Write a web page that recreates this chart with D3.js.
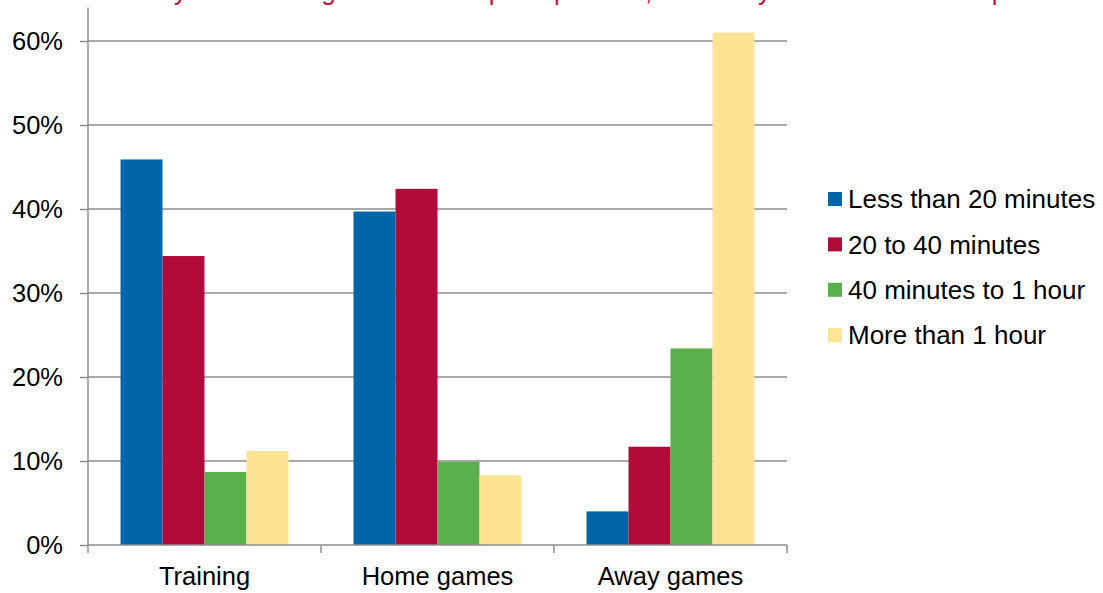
<!DOCTYPE html>
<html>
<head>
<meta charset="utf-8">
<script src="https://cdn.jsdelivr.net/npm/d3@7"></script>
<style>
  body { margin: 0; background: #fff; }
  svg { display: block; font-family: 'Liberation Sans', Arial, sans-serif; }
</style>
</head>
<body>
<div id="chart"></div>
<script>
// Data
var categories = ['Training', 'Home games', 'Away games']
var series = ['Less than 20 minutes', '20 to 40 minutes', '40 minutes to 1 hour', 'More than 1 hour']
var colors = ['#0066aa', '#b20b3a', '#5ab04b', '#fee394']
var lessThan20 = [0.459, 0.397, 0.040]
var from20to40 = [0.344, 0.424, 0.117]
var from40to60 = [0.087, 0.099, 0.234]
var moreThan60 = [0.112, 0.083, 0.610]
var yTicks = [0, 0.1, 0.2, 0.3, 0.4, 0.5, 0.6]
var title = 'How many minutes to get to a local sports practice, and away matches at other sports clubs'

var values = [lessThan20, from20to40, from40to60, moreThan60]

// Setup
var chart = {
  width: 1103,
  height: 593,
  left: 88,
  right: 787,
  top: 41,
  bottom: 545,
}

var svg = d3.select('#chart')
  .append('svg')
  .attr('width', chart.width)
  .attr('height', chart.height)

var x = d3.scaleBand()
  .domain(categories)
  .range([chart.left, chart.right])
  .paddingInner(0)
  .paddingOuter(0)

var xSub = d3.scaleBand()
  .domain(series)
  .range([0, x.bandwidth()])
  .paddingInner(0)
  .paddingOuter(0.774)

var y = d3.scaleLinear()
  .domain([0, 0.6])
  .range([chart.bottom, chart.top])

// title, mostly cut off by the top edge
svg.append('text')
  .attr('x', 64)
  .attr('y', 0)
  .attr('fill', '#c0143c')
  .style('font-size', '26px')
  .text(title)

// gridlines
svg.append('g')
  .selectAll('line')
  .data(yTicks.filter(d => d > 0))
  .enter()
  .append('line')
  .attr('x1', chart.left)
  .attr('x2', chart.right)
  .attr('y1', d => y(d))
  .attr('y2', d => y(d))
  .attr('stroke', '#8c8c8c')
  .attr('stroke-width', 1.5)

// bars
var rows = []
categories.forEach(function (c, i) {
  series.forEach(function (s, j) {
    rows.push({ category: c, series: s, value: values[j][i], color: colors[j] })
  })
})

svg.append('g')
  .selectAll('rect')
  .data(rows)
  .enter()
  .append('rect')
  .attr('x', d => x(d.category) + xSub(d.series))
  .attr('width', xSub.bandwidth())
  .attr('y', d => y(d.value))
  .attr('height', d => y(0) - y(d.value))
  .attr('fill', d => d.color)

// y axis
var yAxis = svg.append('g')
  .attr('transform', `translate(${chart.left},0)`)
  .call(d3.axisLeft(y)
    .tickValues(yTicks)
    .tickFormat(d3.format('.0%'))
    .tickSize(8)
    .tickSizeOuter(0)
    .tickPadding(17))

yAxis.select('.domain').remove()
yAxis.append('line')
  .attr('y1', y(0.64))
  .attr('y2', y(0))
  .attr('stroke', '#8c8c8c')
  .attr('stroke-width', 1.5)
yAxis.selectAll('.tick line').attr('stroke', '#8c8c8c').attr('stroke-width', 1.5)
yAxis.selectAll('.tick text')
  .attr('fill', '#000')
  .style('font-size', '25.5px')
  .style('font-family', "'Liberation Sans', Arial, sans-serif")

// x axis
var xAxis = svg.append('g')
  .attr('transform', `translate(0,${chart.bottom})`)

xAxis.append('line')
  .attr('x1', chart.left)
  .attr('x2', chart.right)
  .attr('stroke', '#8c8c8c')
  .attr('stroke-width', 1.5)

var boundaries = categories.map(c => x(c)).concat([chart.right])
xAxis.selectAll('line.tick')
  .data(boundaries)
  .enter()
  .append('line')
  .attr('class', 'tick')
  .attr('x1', d => d)
  .attr('x2', d => d)
  .attr('y1', 0)
  .attr('y2', 8)
  .attr('stroke', '#8c8c8c')
  .attr('stroke-width', 1.5)

xAxis.selectAll('text')
  .data(categories)
  .enter()
  .append('text')
  .attr('x', d => x(d) + x.bandwidth() / 2)
  .attr('y', 40)
  .attr('text-anchor', 'middle')
  .attr('fill', '#000')
  .style('font-size', '25.5px')
  .text(d => d)

// legend
var legend = svg.append('g')
  .attr('transform', 'translate(828,199)')

var legendItems = legend.selectAll('g')
  .data(series)
  .enter()
  .append('g')
  .attr('transform', (d, i) => `translate(0,${i * 45.4})`)

legendItems.append('rect')
  .attr('x', 0)
  .attr('y', -7)
  .attr('width', 14)
  .attr('height', 14)
  .attr('fill', (d, i) => colors[i])

legendItems.append('text')
  .attr('x', 20)
  .attr('y', 0)
  .attr('dy', '0.35em')
  .attr('fill', '#000')
  .style('font-size', '26px')
  .text(d => d)
</script>
</body>
</html>
